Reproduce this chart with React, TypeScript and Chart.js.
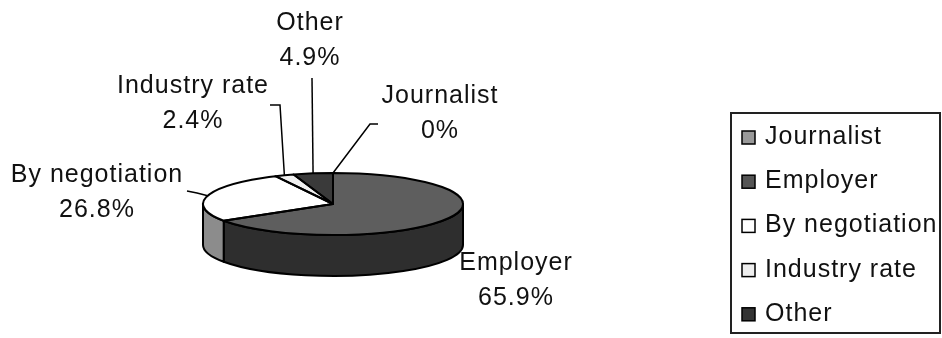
import React, { useEffect, useRef } from "react";
import { Chart, registerables } from "chart.js";

Chart.register(...registerables);

// ---- data ----
const CATEGORIES = ["Journalist", "Employer", "By negotiation", "Industry rate", "Other"];
const VALUES = [0, 65.9, 26.8, 2.4, 4.9];
const VALUE_LABELS = ["0%", "65.9%", "26.8%", "2.4%", "4.9%"];

// ---- styles / layout ----
const TOP_COLORS = ["#999999", "#5e5e5e", "#ffffff", "#f0f0f0", "#3a3a3a"];
const SIDE_COLORS = ["#6a6a6a", "#2e2e2e", "#8c8c8c", "#a8a8a8", "#222222"];
const LEGEND_COLORS = ["#999999", "#555555", "#ffffff", "#eeeeee", "#333333"];
const TILT = 31 / 130; // vertical squash of the pie
const DEPTH = 41; // thickness of the 3D pie
const FONT = '25px "Liberation Sans", Arial, sans-serif';
const LINE_GAP = 35;
// label anchors: [centerX, firstBaselineY]
const LABEL_POS: [number, number][] = [
  [440, 103],
  [516, 270],
  [97, 182],
  [193, 93],
  [310, 30],
];
// leader line start points (label side), ending at slice edge
const LEADERS: [number, number][][] = [
  [[378, 124], [370, 124]],
  [],
  [[187, 191], [197, 193]],
  [[270, 105], [280, 105]],
  [[312, 78]],
];

function arcProps(arc: any) {
  return arc.getProps(["x", "y", "startAngle", "endAngle", "outerRadius"], true);
}

const pie3d = {
  id: "pie3d",
  beforeDatasetsDraw(chart: any) {
    const ctx = chart.ctx as CanvasRenderingContext2D;
    const meta = chart.getDatasetMeta(0);
    meta.data.forEach((arc: any, i: number) => {
      const { x, y, startAngle, endAngle, outerRadius } = arcProps(arc);
      const rx = outerRadius;
      const ry = outerRadius * TILT;
      const ranges = [
        [-2 * Math.PI, -Math.PI],
        [0, Math.PI],
        [2 * Math.PI, 3 * Math.PI],
      ];
      ranges.forEach(([a, b]) => {
        const lo = Math.max(startAngle, a);
        const hi = Math.min(endAngle, b);
        if (hi - lo <= 1e-6) return;
        ctx.save();
        ctx.beginPath();
        ctx.ellipse(x, y, rx, ry, 0, lo, hi, false);
        ctx.lineTo(x + rx * Math.cos(hi), y + ry * Math.sin(hi) + DEPTH);
        ctx.ellipse(x, y + DEPTH, rx, ry, 0, hi, lo, true);
        ctx.closePath();
        ctx.fillStyle = SIDE_COLORS[i];
        ctx.fill();
        ctx.lineWidth = 2;
        ctx.lineJoin = "round";
        ctx.strokeStyle = "#000";
        ctx.stroke();
        ctx.restore();
      });
    });
  },
  beforeDatasetDraw(chart: any) {
    const ctx = chart.ctx as CanvasRenderingContext2D;
    const arc = chart.getDatasetMeta(0).data[0];
    const { x, y } = arcProps(arc);
    ctx.save();
    ctx.translate(x, y);
    ctx.scale(1, TILT);
    ctx.translate(-x, -y);
  },
  afterDatasetDraw(chart: any) {
    const ctx = chart.ctx as CanvasRenderingContext2D;
    ctx.restore();
    const meta = chart.getDatasetMeta(0);
    ctx.save();
    ctx.strokeStyle = "#000";
    ctx.lineWidth = 2;
    ctx.lineJoin = "round";
    meta.data.forEach((arc: any) => {
      const { x, y, startAngle, endAngle, outerRadius } = arcProps(arc);
      const rx = outerRadius;
      const ry = outerRadius * TILT;
      ctx.beginPath();
      ctx.moveTo(x, y);
      ctx.lineTo(x + rx * Math.cos(startAngle), y + ry * Math.sin(startAngle));
      if (endAngle > startAngle) ctx.ellipse(x, y, rx, ry, 0, startAngle, endAngle, false);
      ctx.closePath();
      ctx.stroke();
    });
    ctx.restore();
  },
  afterDraw(chart: any) {
    const ctx = chart.ctx as CanvasRenderingContext2D;
    const meta = chart.getDatasetMeta(0);
    const labels: string[] = chart.data.labels;
    ctx.save();
    ctx.font = FONT;
    (ctx as any).letterSpacing = "1px";
    ctx.fillStyle = "#111";
    ctx.textAlign = "center";
    ctx.textBaseline = "alphabetic";
    // data labels + leader lines
    labels.forEach((lab, i) => {
      const [lx, ly] = LABEL_POS[i];
      ctx.fillText(lab, lx, ly);
      ctx.fillText(VALUE_LABELS[i], lx, ly + LINE_GAP);
      const pts = LEADERS[i];
      if (pts.length) {
        const { x, y, startAngle, endAngle, outerRadius } = arcProps(meta.data[i]);
        const mid = (startAngle + endAngle) / 2;
        const ex = x + outerRadius * Math.cos(mid);
        const ey = y + outerRadius * TILT * Math.sin(mid);
        ctx.beginPath();
        ctx.moveTo(pts[0][0], pts[0][1]);
        for (let k = 1; k < pts.length; k++) ctx.lineTo(pts[k][0], pts[k][1]);
        ctx.lineTo(ex, ey);
        ctx.strokeStyle = "#000";
        ctx.lineWidth = 1.5;
        ctx.stroke();
      }
    });
    // legend
    ctx.strokeStyle = "#222";
    ctx.lineWidth = 2;
    ctx.strokeRect(731, 113, 209, 220);
    ctx.textAlign = "left";
    labels.forEach((lab, i) => {
      const base = 144 + i * 44.2;
      ctx.fillStyle = LEGEND_COLORS[i];
      ctx.fillRect(742, base - 13, 13, 13);
      ctx.lineWidth = 1.5;
      ctx.strokeStyle = "#000";
      ctx.strokeRect(742, base - 13, 13, 13);
      ctx.fillStyle = "#111";
      ctx.fillText(lab, 765, base);
    });
    ctx.restore();
  },
};

export default function App() {
  const ref = useRef<HTMLCanvasElement | null>(null);
  useEffect(() => {
    if (!ref.current) return;
    const chart = new Chart(ref.current, {
      type: "pie",
      data: {
        labels: CATEGORIES,
        datasets: [
          {
            data: VALUES,
            backgroundColor: TOP_COLORS,
            borderWidth: 0,
            hoverOffset: 0,
            clip: false as any,
          },
        ],
      },
      options: {
        responsive: false,
        animation: false,
        layout: { padding: { left: 203, right: 479, top: 74, bottom: 4 } },
        plugins: {
          legend: { display: false },
          tooltip: { enabled: false },
        },
        events: [],
      },
      plugins: [pie3d],
    });
    return () => chart.destroy();
  }, []);
  return (
    <div style={{ position: "absolute", left: 0, top: 0, width: 942, height: 338, background: "#fff" }}>
      <canvas ref={ref} width={942} height={338} style={{ display: "block", width: 942, height: 338 }} />
    </div>
  );
}
